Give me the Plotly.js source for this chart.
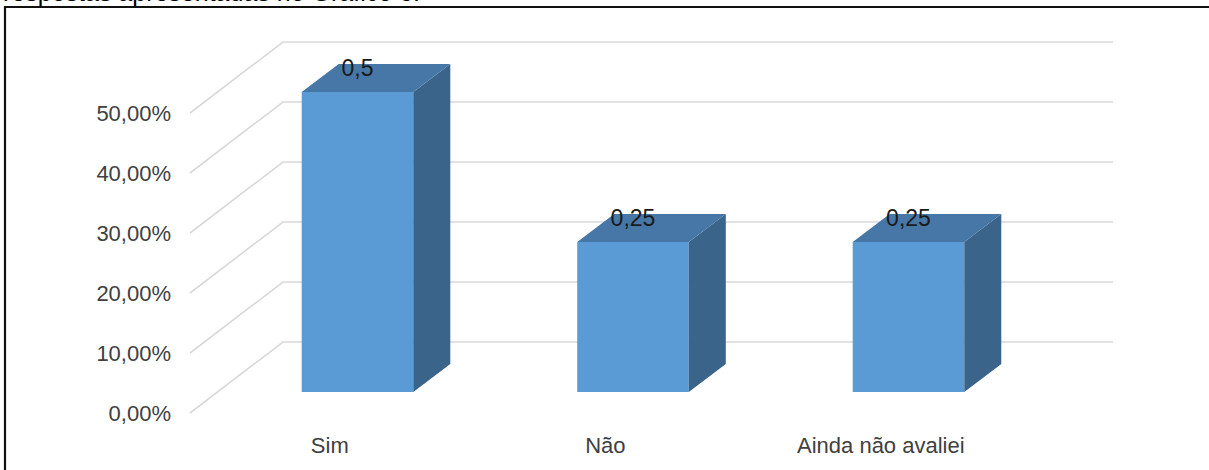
<!DOCTYPE html>
<html><head><meta charset="utf-8">
<script src="https://cdn.plot.ly/plotly-3.0.1.min.js"></script>
<style>html,body{margin:0;padding:0;background:#fff;overflow:hidden}#chart{width:1209px;height:470px}</style>
</head><body><div id="chart"></div>
<script>
// ---- data ----
const categories = ['Sim', 'Não', 'Ainda não avaliei'];
const values = [0.5, 0.25, 0.25];
const yTickValues = [0, 0.1, 0.2, 0.3, 0.4, 0.5];
const pageHeading = 'respostas apresentadas no Gráfico 6.';

// ---- geometry (px) ----
const W = 1209, H = 470;
const L = 190, R = 1113, T = 30, B = 430;
const PX_Y = 600, PX_X = 275.5;
const FRONT_Y0 = 413, BAR_Y0 = 392;
const FRONT_X0 = 329.8, BAR_X0 = 357.5;
const BAR_W = 0.405;
const DEPTH_DX = 37, DEPTH_DY = 28;
const WALL_DX = 93, WALL_DY = 71;
const LABEL_DY = 22;
const FONT = 'Liberation Sans, Arial, sans-serif';
const COL_FRONT = '#5B9BD5', COL_TOP = '#4677A6', COL_SIDE = '#3A6489';

const px2paperX = p => (p - L) / (R - L);
const px2paperY = p => (B - p) / (B - T);

const xs = categories.map((c, i) => i);
const dxu = DEPTH_DX / PX_X, dyu = DEPTH_DY / PX_Y, hw = BAR_W / 2;

const sideX = [], sideY = [], topX = [], topY = [];
xs.forEach((x, i) => {
  const v = values[i];
  sideX.push(x + hw, x + hw + dxu, x + hw + dxu, x + hw, x + hw, null);
  sideY.push(0, dyu, v + dyu, v, 0, null);
  topX.push(x - hw, x + hw, x + hw + dxu, x - hw + dxu, x - hw, null);
  topY.push(v, v, v + dyu, v + dyu, v, null);
});

const traces = [
  {type: 'bar', x: xs, y: values, width: BAR_W, xaxis: 'x2', yaxis: 'y2',
   marker: {color: COL_FRONT, line: {width: 0}}, hoverinfo: 'skip', showlegend: false},
  {type: 'scatter', mode: 'lines', x: sideX, y: sideY, fill: 'toself', fillcolor: COL_SIDE,
   line: {width: 0, color: COL_SIDE}, xaxis: 'x2', yaxis: 'y2', hoverinfo: 'skip', showlegend: false},
  {type: 'scatter', mode: 'lines', x: topX, y: topY, fill: 'toself', fillcolor: COL_TOP,
   line: {width: 0, color: COL_TOP}, xaxis: 'x2', yaxis: 'y2', hoverinfo: 'skip', showlegend: false},
  {type: 'scatter', mode: 'text', x: xs, y: values.map(v => v + LABEL_DY / PX_Y),
   text: values.map(v => String(v).replace('.', ',')), textposition: 'middle center',
   textfont: {family: FONT, size: 23, color: '#1a1a1a'}, cliponaxis: false,
   xaxis: 'x2', yaxis: 'y2', hoverinfo: 'skip', showlegend: false}
];

const shapes = [];
const wallX = px2paperX(L + WALL_DX);
yTickValues.forEach(v => {
  const vb = v + WALL_DY / PX_Y;
  shapes.push({type: 'path', xref: 'paper', yref: 'y', layer: 'below',
    path: `M0,${v} L${wallX},${vb} L1,${vb}`,
    line: {color: '#d9d9d9', width: 1.6}});
});
shapes.push({type: 'path', xref: 'paper', yref: 'paper', layer: 'above',
  path: `M${px2paperX(5)},${px2paperY(H + 5)} L${px2paperX(5)},${px2paperY(7)} L${px2paperX(W + 5)},${px2paperY(7)}`,
  line: {color: '#111', width: 2.2}});

const layout = {
  width: W, height: H,
  margin: {l: L, r: W - R, t: T, b: H - B, pad: 0},
  paper_bgcolor: '#fff', plot_bgcolor: 'rgba(0,0,0,0)',
  separators: ',.',
  font: {family: FONT, size: 22, color: '#404040'},
  showlegend: false,
  xaxis: {type: 'linear', range: [(L - FRONT_X0) / PX_X, (R - FRONT_X0) / PX_X],
    tickmode: 'array', tickvals: xs, ticktext: categories,
    showgrid: false, zeroline: false, showline: false, ticks: '',
    tickfont: {family: FONT, size: 22, color: '#404040'}},
  yaxis: {range: [(FRONT_Y0 - B) / PX_Y, (FRONT_Y0 - T) / PX_Y],
    tickmode: 'array', tickvals: yTickValues, tickformat: '.2%',
    showgrid: false, zeroline: false, showline: false, ticks: '',
    ticklabelstandoff: 18,
    tickfont: {family: FONT, size: 22, color: '#404040'}},
  xaxis2: {type: 'linear', overlaying: 'x', anchor: 'y', visible: false,
    range: [(L - BAR_X0) / PX_X, (R - BAR_X0) / PX_X]},
  yaxis2: {overlaying: 'y', anchor: 'x', visible: false,
    range: [(BAR_Y0 - B) / PX_Y, (BAR_Y0 - T) / PX_Y]},
  shapes: shapes,
  annotations: [{xref: 'paper', yref: 'paper', x: px2paperX(1), y: px2paperY(1 - 0.35 * 25),
    xanchor: 'left', yanchor: 'middle', showarrow: false, text: pageHeading,
    font: {family: FONT, size: 25, color: '#000'}}]
};

Plotly.newPlot('chart', traces, layout, {staticPlot: true, displayModeBar: false});
</script></body></html>
